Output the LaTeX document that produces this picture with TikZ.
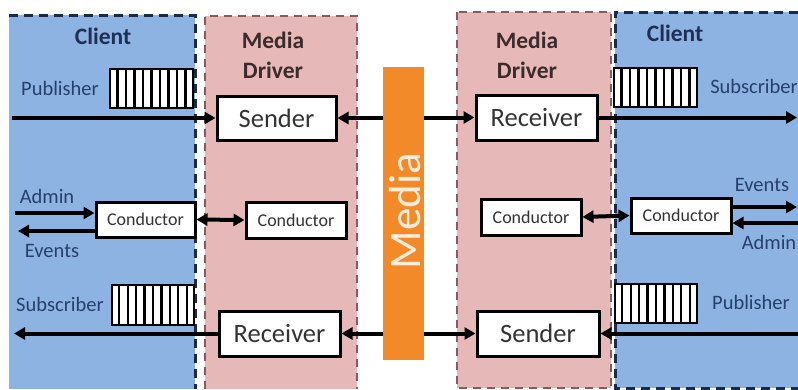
\documentclass[tikz,border=0pt]{standalone}
\usepackage{fontspec}
\setmainfont{Carlito}
\usetikzlibrary{arrows.meta,calc}

\definecolor{clientfill}{HTML}{8DB3E2}
\definecolor{clientline}{HTML}{1C2A4A}
\definecolor{driverfill}{HTML}{E6B9B8}
\definecolor{driverline}{HTML}{8C5A5E}
\definecolor{mediaorange}{HTML}{F38A2A}
\definecolor{mediacream}{HTML}{FDEBDC}
\definecolor{clienttitle}{HTML}{1F2F56}
\definecolor{drivertitle}{HTML}{3B2B2B}
\definecolor{labelblue}{HTML}{26406E}
\definecolor{boxtext}{HTML}{333333}

\tikzset{
  clientedge/.style={draw=clientline, line width=3pt, dash pattern=on 9pt off 6pt},
  driveredge/.style={draw=driverline, line width=2pt, dash pattern=on 8pt off 6pt},
  bigbox/.style={draw=black, line width=3pt, fill=white, inner sep=0pt,
    minimum width=120pt, minimum height=45pt, text=boxtext, font=\fontsize{26.5}{26.5}\selectfont},
  smallbox/.style={draw=black, line width=3pt, fill=white, inner sep=0pt,
    minimum width=100pt, minimum height=35pt, text=boxtext, font=\fontsize{18}{18}\selectfont},
  queue/.style={draw=black, line width=2.2pt, fill=white, inner sep=0pt,
    minimum width=83pt, minimum height=39pt},
  title/.style={font=\bfseries\fontsize{23.5}{30}\selectfont, align=center},
  lbl/.style={text=labelblue, font=\fontsize{20.5}{20.5}\selectfont, inner sep=0pt},
  flow/.style={draw=black, line width=4pt, -{Triangle[length=11pt,width=12pt]}},
  biflow/.style={draw=black, line width=4pt, {Triangle[length=11pt,width=12pt]}-{Triangle[length=11pt,width=12pt]}},
}

\begin{document}
\begin{tikzpicture}[x=1pt,y=-1pt]
\useasboundingbox (0,0) rectangle (798,389);

% ---- regions ----
\fill[clientfill] (9,15) rectangle (195,389);
\draw[clientedge] (9,15) -- (195,15) -- (195,389);
\fill[driverfill] (205,16) rectangle (357,389);
\draw[driveredge] (205,389) -- (205,16) -- (357,16) -- (357,389);
\fill[driverfill] (457,12) rectangle (611,388);
\draw[driveredge] (457,12) rectangle (611,388);
\fill[clientfill] (615,12) rectangle (798,388);
\draw[clientedge] (798,12) -- (615,12) -- (615,388) -- (798,388);

% ---- titles ----
\node[title, text=clienttitle] (clientL) at (103,36) {Client};
\node[title, text=clienttitle] (clientR) at (675,33) {Client};
\node[title, text=drivertitle] (driverL) at (273,55) {Media\\Driver};
\node[title, text=drivertitle] (driverR) at (527,55) {Media\\Driver};

% ---- media channel ----
\node[fill=mediaorange, inner sep=0pt, minimum width=41pt, minimum height=293pt] (media) at (403.5,213.5) {};
\node[rotate=90, text=mediacream, font=\fontsize{45}{45}\selectfont, inner sep=0pt] (medialbl) at (405,211) {Media};

% ---- boxes ----
\node[bigbox, minimum width=119pt, minimum height=44pt] (sendL) at (276.5,118) {Sender};
\node[bigbox, minimum width=121pt] (recvL) at (279.5,333.5) {Receiver};
\node[bigbox, minimum width=121pt] (recvR) at (536.5,117.5) {Receiver};
\node[bigbox, minimum width=122pt] (sendR) at (538,333.5) {Sender};

\node[smallbox, minimum width=99pt] (condCL) at (145.5,219.5) {Conductor};
\node[smallbox, minimum height=36pt] (condDL) at (296,220) {Conductor};
\node[smallbox, minimum height=36pt] (condDR) at (531,217) {Conductor};
\node[smallbox] (condCR) at (681,215.5) {Conductor};

% ---- queues ----
\node[queue] (qPubL) at (151.5,88.5) {};
\node[queue] (qSubR) at (655.5,87.5) {};
\node[queue, minimum width=82pt, minimum height=40pt] (qSubL) at (153,305) {};
\node[queue, minimum width=82pt] (qPubR) at (656,303.5) {};
\foreach \q in {qPubL,qSubR,qSubL,qPubR}{
  \foreach \i in {1,...,9}{
    \draw[line width=2.2pt] ($(\q.north west)!\i/10!(\q.north east)$) -- ($(\q.south west)!\i/10!(\q.south east)$);
  }
}

% ---- labels ----
\node[lbl] (pubL) at (60,88) {Publisher};
\node[lbl] (subR) at (754,86) {Subscriber};
\node[lbl] (adminL) at (47,196) {Admin};
\node[lbl] (eventsL) at (52,251) {Events};
\node[lbl] (eventsR) at (762,185) {Events};
\node[lbl] (adminR) at (769,242) {Admin};
\node[lbl] (subL) at (60,304) {Subscriber};
\node[lbl] (pubR) at (751,302) {Publisher};

% ---- free ends of the flows ----
\coordinate (pubIn) at (12,118);
\coordinate (subOut) at (797,117.5);
\coordinate (adminIn) at (15,213);
\coordinate (eventsOut) at (18,231);
\coordinate (eventsOutR) at (797,207);
\coordinate (adminInR) at (798,223);
\coordinate (subOutL) at (14,333.5);
\coordinate (pubInR) at (798,333.5);

% ---- flows ----
\draw[flow] (pubIn) -- (sendL.west);
\draw[flow] (media.west |- sendL.east) -- (sendL.east);
\draw[flow] (media.east |- recvR.west) -- (recvR.west);
\draw[flow] (recvR.east) -- (subOut);

\draw[flow] (adminIn) -- (condCL.west |- adminIn);
\draw[flow] (condCL.west |- eventsOut) -- (eventsOut);
\draw[biflow] (condCL.east) -- (condDL.west);
\draw[biflow] (condDR.east) -- (condCR.west);
\draw[flow] (condCR.east |- eventsOutR) -- (eventsOutR);
\draw[flow] (adminInR) -- (condCR.east |- adminInR);

\draw[flow] (media.west |- recvL.east) -- (recvL.east);
\draw[flow] (recvL.west) -- (subOutL);
\draw[flow] (media.east |- sendR.west) -- (sendR.west);
\draw[flow] (pubInR) -- (sendR.east);
\end{tikzpicture}
\end{document}
